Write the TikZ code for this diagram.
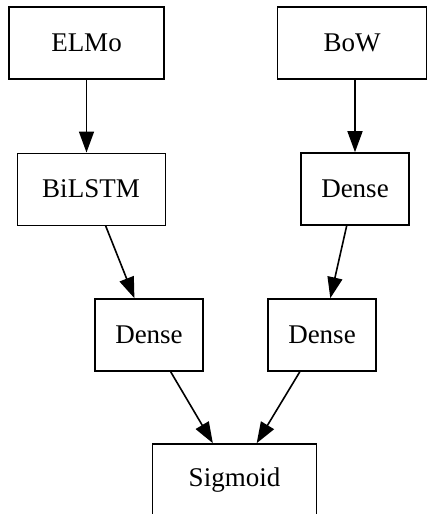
\documentclass[tikz,border=0pt]{standalone}
\usepackage{fontspec}
\setmainfont{Liberation Serif}
\usetikzlibrary{arrows.meta}

\begin{document}
\begin{tikzpicture}[x=1pt,y=-1pt,
        layer/.style={draw,line width=1.6pt,inner sep=0pt,minimum height=72pt,font=\fontsize{27}{32}\selectfont},
        link/.style={line width=1.6pt,-{Triangle[length=21pt,width=15pt]}}]
        \useasboundingbox (0,0) rectangle (427,514);
        \clip (0,0) rectangle (427,514);
        \node[layer,minimum width=155pt] (elmo) at (86.5,43) {ELMo};
        \node[layer,minimum width=149pt] (bow) at (352,43) {BoW};
        \node[layer,minimum width=148pt,line width=1pt] (bilstm) at (91,189) {BiLSTM};
        \node[layer,minimum width=108pt] (bowdense) at (355,189) {Dense};
        \node[layer,minimum width=108pt] (lstmdense) at (149,335) {Dense};
        \node[layer,minimum width=108pt] (mixdense) at (322,335) {Dense};
        \node[layer,minimum width=164pt] (sigmoid) at (234.5,480) {Sigmoid};
        \draw[link] (elmo.south) -- (elmo.south |- bilstm.north);
        \draw[link] (bowdense |- bow.south) -- (bowdense.north);
        \draw[link] (bilstm) -- (lstmdense);
        \draw[link] (bowdense) -- (mixdense);
        \draw[link] (lstmdense) -- (sigmoid);
        \draw[link] (mixdense) -- (sigmoid);
\end{tikzpicture}
\end{document}
